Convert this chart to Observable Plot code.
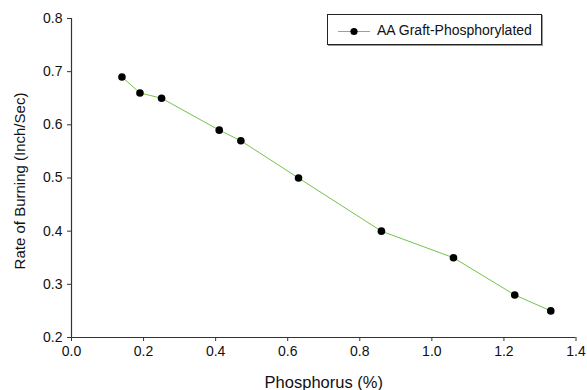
<!DOCTYPE html>
<html>
<head>
<meta charset="utf-8">
<script src="https://cdn.jsdelivr.net/npm/d3@7"></script>
<script src="https://cdn.jsdelivr.net/npm/@observablehq/plot@0.6"></script>
<style>
  html, body { margin: 0; padding: 0; background: #fff; }
  #wrap { position: relative; width: 587px; height: 390px; font-family: "Liberation Sans", Arial, sans-serif; }
  #legend { position: absolute; left: 327px; top: 14px; width: 215px; height: 31px; border: 1px solid #222; box-shadow: 1px 1px 0 #999; background: #fff; box-sizing: border-box; }
  #legend svg { position: absolute; left: 0; top: 0; }
  #legend span { position: absolute; left: 49px; top: 7px; font-size: 14px; color: #111; white-space: nowrap; }
</style>
</head>
<body>
<div id="wrap"></div>
<script>
const phosphorus = [0.14, 0.19, 0.25, 0.41, 0.47, 0.63, 0.86, 1.06, 1.23, 1.33];
const burningRate = [0.69, 0.66, 0.65, 0.59, 0.57, 0.50, 0.40, 0.35, 0.28, 0.25];
const xTicks = [0.0, 0.2, 0.4, 0.6, 0.8, 1.0, 1.2, 1.4];
const yTicks = [0.2, 0.3, 0.4, 0.5, 0.6, 0.7, 0.8];
const seriesName = "AA Graft-Phosphorylated";
const xLabel = "Phosphorus (%)";
const yLabel = "Rate of Burning (Inch/Sec)";

const data = phosphorus.map((p, i) => ({x: p, y: burningRate[i]}));
const lineColor = "#72c447";

const chart = Plot.plot({
  width: 587,
  height: 390,
  marginLeft: 71,
  marginRight: 11.5,
  marginTop: 18,
  marginBottom: 53,
  style: { fontFamily: "'Liberation Sans', Arial, sans-serif", fontSize: "14px", color: "#111", background: "#fff" },
  x: { domain: [0, 1.4], ticks: xTicks, tickFormat: d3.format(".1f"), label: null },
  y: { domain: [0.2, 0.8], ticks: yTicks, tickFormat: d3.format(".1f"), label: null },
  marks: [
    Plot.ruleX([0], { stroke: "#333", strokeWidth: 1.2 }),
    Plot.ruleY([0.2], { stroke: "#333", strokeWidth: 1.2 }),
    Plot.axisX({ ticks: xTicks, tickSize: 4, tickPadding: 5, tickFormat: d3.format(".1f"), stroke: "#333", label: null }),
    Plot.axisY({ ticks: yTicks, tickSize: 4, tickPadding: 5, tickFormat: d3.format(".1f"), stroke: "#333", label: null }),
    Plot.text([xLabel], { frameAnchor: "bottom", lineAnchor: "middle", dy: 45, fontSize: 16.5, fill: "#111" }),
    Plot.text([yLabel], { frameAnchor: "left", textAnchor: "middle", lineAnchor: "middle", dx: -51, dy: 3, rotate: -90, fontSize: 15, fill: "#111" }),
    Plot.line(data, { x: "x", y: "y", stroke: lineColor, strokeWidth: 1 }),
    Plot.dot(data, { x: "x", y: "y", r: 3.8, fill: "#000", stroke: "none" })
  ]
});
document.getElementById("wrap").appendChild(chart);

const legend = document.createElement("div");
legend.id = "legend";
legend.innerHTML = `<svg width="215" height="31"><line x1="10" x2="42" y1="16.5" y2="16.5" stroke="${lineColor}" stroke-width="1"/><circle cx="26" cy="16.5" r="3.6" fill="#000"/></svg><span></span>`;
legend.querySelector("span").textContent = seriesName;
document.getElementById("wrap").appendChild(legend);
</script>
</body>
</html>
